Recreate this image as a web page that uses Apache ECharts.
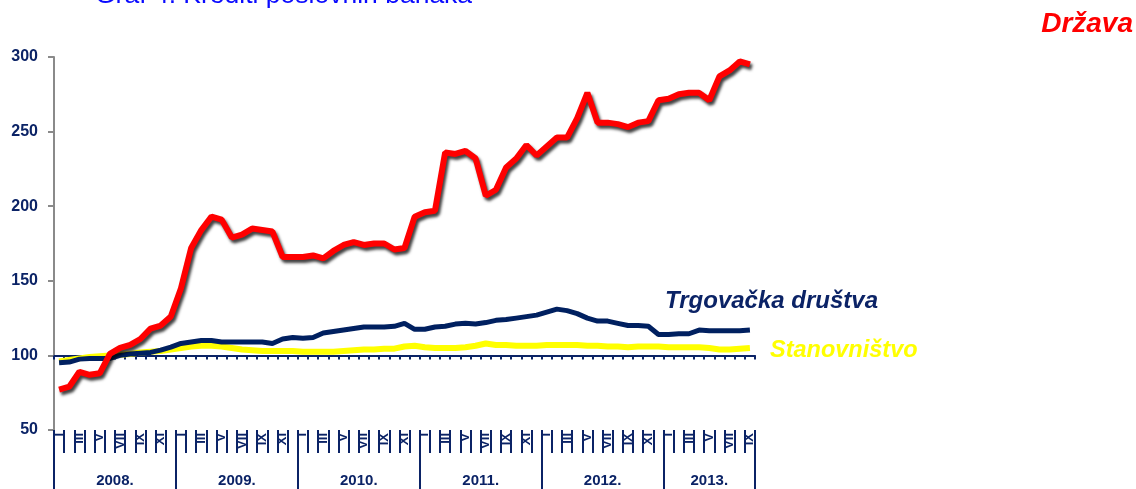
<!DOCTYPE html>
<html>
<head>
<meta charset="utf-8">
<script src="https://cdn.jsdelivr.net/npm/echarts@6/dist/echarts.min.js"></script>
<style>
html,body{margin:0;padding:0;background:#fff;}
#c{width:1136px;height:489px;}
</style>
</head>
<body>
<div id="c"></div>
<script>
// ---- data ----
var years = ['2008.', '2009.', '2010.', '2011.', '2012.', '2013.'];
var monthsPerYear = [12, 12, 12, 12, 12, 9];
var romanMonths = ['I','II','III','IV','V','VI','VII','VIII','IX','X','XI','XII'];
var yTicks = [50, 100, 150, 200, 250, 300];

var drzava = [77, 79, 89, 87, 88, 101, 105, 107, 111, 118, 120, 126,
  145, 172, 184, 193, 191, 179, 181, 185, 184, 183, 166, 166,
  166, 167, 165, 170, 174, 176, 174, 175, 175, 171, 172, 193,
  196, 197, 236, 235, 237, 232, 207, 211, 226, 232, 241, 234,
  240, 246, 246, 259, 276, 256, 256, 255, 253, 256, 257, 271,
  272, 275, 276, 276, 271, 287, 291, 297, 295];
var trgovacka = [95, 95.5, 97.5, 98, 98, 98, 100, 101, 101.5, 102, 103.5, 105.5,
  108, 109, 110, 110, 109, 109, 109, 109, 109, 108, 111, 112,
  111.5, 112, 115, 116, 117, 118, 119, 119, 119, 119.5, 121.5, 117.5,
  117.5, 119, 119.5, 121, 121.5, 121, 122, 123.5, 124, 125, 126, 127,
  129, 131, 130, 128, 125, 123, 123, 121.5, 120, 120, 119.5, 114,
  114, 114.5, 114.5, 117, 116.5, 116.5, 116.5, 116.5, 117];
var stanovnistvo = [96, 97, 98, 99, 99.5, 100, 100.5, 101, 102, 102.5, 103, 104,
  105, 106, 106.5, 106.5, 106, 105, 104, 103.5, 103, 103, 103, 103,
  102.5, 102.5, 102.5, 102.5, 103, 103.5, 104, 104, 104.5, 104.5, 106, 106.5,
  105.5, 105, 105, 105, 105.5, 106.5, 108, 107, 107, 106.5, 106.5, 106.5,
  107, 107, 107, 107, 106.5, 106.5, 106, 106, 105.5, 106, 106, 106,
  105.5, 105.5, 105.5, 105.5, 105, 104, 104, 104.5, 105];

// ---- derived ----
var categories = [];
var monthIdx = [];
years.forEach(function (y, yi) {
  for (var m = 0; m < monthsPerYear[yi]; m++) {
    categories.push(romanMonths[m] + ' ' + y);
    monthIdx.push(m);
  }
});
var nMonths = categories.length;
var yearCenters = {};
var acc = 0;
years.forEach(function (y, yi) {
  yearCenters[acc + monthsPerYear[yi] / 2] = y;
  acc += monthsPerYear[yi];
});

var yMin = yTicks[0], yMax = yTicks[yTicks.length - 1];
var gridLeft = 54, gridTop = 57, gridW = 701, gridH = 373;
var navy = '#0b2366';
var ff = 'Liberation Sans, Arial, sans-serif';

var chart = echarts.init(document.getElementById('c'), null, {renderer: 'canvas'});
chart.setOption({
  animation: false,
  backgroundColor: '#ffffff',
  grid: {left: gridLeft, top: gridTop, width: gridW, height: gridH, containLabel: false},
  xAxis: [
    { // month labels row at bottom
      type: 'category', data: categories, position: 'bottom', boundaryGap: true,
      axisLine: {show: false},
      axisTick: {show: true, interval: 0, length: 23, lineStyle: {color: navy, width: 2}},
      axisLabel: {
        interval: 0, rotate: 90, margin: 3, fontSize: 13, fontWeight: 'bold',
        fontFamily: ff, color: navy,
        formatter: function (v, i) { return monthIdx[i] % 2 === 0 ? romanMonths[monthIdx[i]] : ''; }
      },
      splitLine: {show: false}
    },
    { // axis line at value 100
      type: 'category', data: categories, position: 'bottom', boundaryGap: true,
      offset: -gridH * (100 - yMin) / (yMax - yMin),
      axisLine: {show: true, lineStyle: {color: navy, width: 2}},
      axisTick: {show: true, interval: 0, length: 4, lineStyle: {color: navy, width: 2}},
      axisLabel: {show: false},
      splitLine: {show: false}
    },
    { // year separators
      type: 'value', min: 0, max: nMonths, interval: 12, position: 'bottom',
      axisLine: {show: false},
      axisTick: {show: true, length: 60, lineStyle: {color: navy, width: 2}},
      axisLabel: {show: false},
      splitLine: {show: false}
    },
    { // year labels
      type: 'value', min: 0, max: nMonths, interval: 0.5, position: 'bottom',
      axisLine: {show: false}, axisTick: {show: false}, splitLine: {show: false},
      axisLabel: {
        show: true, margin: 43, fontSize: 15, fontWeight: 'bold',
        fontFamily: ff, color: navy,
        showMinLabel: false, showMaxLabel: false,
        formatter: function (v) { return yearCenters[v] || ''; }
      }
    }
  ],
  yAxis: {
    type: 'value', min: yMin, max: yMax, interval: 50,
    axisLine: {show: true, lineStyle: {color: '#8a8a8a', width: 2}},
    axisTick: {show: true, length: 6, lineStyle: {color: '#8a8a8a', width: 2}},
    axisLabel: {margin: 16, fontSize: 16, fontWeight: 'bold', fontFamily: ff, color: navy},
    splitLine: {show: false}
  },
  series: [
    {
      name: 'Stanovništvo', type: 'line', data: stanovnistvo, xAxisIndex: 0,
      symbol: 'none', smooth: false,
      lineStyle: {color: '#ffff00', width: 6}
    },
    {
      name: 'Trgovačka društva', type: 'line', data: trgovacka, xAxisIndex: 0,
      symbol: 'none', smooth: false,
      lineStyle: {color: '#002060', width: 5}
    },
    {
      name: 'Država', type: 'line', data: drzava, xAxisIndex: 0,
      symbol: 'none', smooth: false,
      lineStyle: {color: '#ff0000', width: 6, shadowColor: 'rgba(0,0,0,0.75)', shadowBlur: 3, shadowOffsetX: 2, shadowOffsetY: 3}
    }
  ],
  graphic: [
    {type: 'text', left: 95, top: -18, silent: true,
      style: {text: 'Graf 4. Krediti poslovnih banaka', fill: '#0a0aff', fontSize: 26.5,
        fontFamily: ff}},
    {type: 'text', right: 3, top: 10, silent: true,
      style: {text: 'Država', fill: '#ff0000', fontSize: 28, fontWeight: 'bold', fontStyle: 'italic',
        fontFamily: ff}},
    {type: 'text', left: 665, top: 289, silent: true,
      style: {text: 'Trgovačka društva', fill: '#0b2366', fontSize: 24, fontWeight: 'bold', fontStyle: 'italic',
        fontFamily: ff}},
    {type: 'text', left: 770, top: 339, silent: true,
      style: {text: 'Stanovništvo', fill: '#ffff00', fontSize: 23.5, fontWeight: 'bold', fontStyle: 'italic',
        fontFamily: ff}}
  ]
});
</script>
</body>
</html>
